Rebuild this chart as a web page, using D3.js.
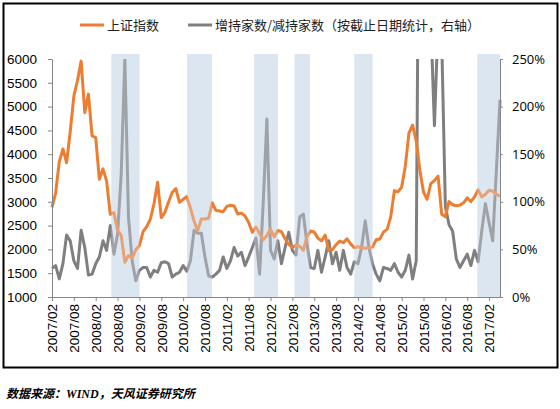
<!DOCTYPE html>
<html>
<head>
<meta charset="utf-8">
<script src="https://cdn.jsdelivr.net/npm/d3@7"></script>
<style>
  body { margin: 0; background: #fff; }
  svg { display: block; }
</style>
</head>
<body>
<script>
// monthly categories 2007/02 .. 2017/05
const months = d3.timeMonth.range(new Date(2007, 1, 1), new Date(2017, 5, 1)).map(d3.timeFormat("%Y/%m"));

const tickLabels = ["2007/02", "2007/08", "2008/02", "2008/08", "2009/02", "2009/08", "2010/02",
    "2010/08", "2011/02", "2011/08", "2012/02", "2012/08", "2013/02", "2013/08", "2014/02",
    "2014/08", "2015/02", "2015/08", "2016/02", "2016/08", "2017/02"];

// 上证指数, month end close
const sse = [
    2881, 3184, 3841, 4110, 3821, 4471, 5219, 5552, 5955, 4872, 5262,
    4383, 4349, 3473, 3693, 3433, 2736, 2776, 2397, 2294, 1729, 1871, 1821,
    1991, 2083, 2373, 2478, 2633, 2959, 3412, 2668, 2779, 2996, 3195, 3277,
    2989, 3052, 3109, 2871, 2592, 2398, 2638, 2639, 2656, 2979, 2820, 2808,
    2791, 2905, 2928, 2912, 2743, 2762, 2702, 2567, 2359, 2468, 2333, 2199,
    2293, 2428, 2263, 2396, 2372, 2225, 2104, 2048, 2086, 2069, 1980, 2269,
    2385, 2366, 2237, 2178, 2301, 1979, 1994, 2098, 2175, 2142, 2221, 2116,
    2033, 2056, 2033, 2026, 2039, 2048, 2202, 2217, 2364, 2420, 2683, 3235,
    3210, 3310, 3748, 4442, 4612, 4277, 3664, 3206, 3053, 3383, 3445, 3539,
    2738, 2688, 3004, 2938, 2917, 2930, 2979, 3085, 3005, 3100, 3250, 3104,
    3159, 3242, 3223, 3155, 3117
];

// 增持家数/减持家数 (%), right axis
const ratio = [
    30, 33, 19, 35, 65, 59, 38, 30, 70, 52, 23,
    24, 35, 42, 59, 49, 75, 45, 66, 129, 250, 84, 38,
    17, 28, 31, 31, 21, 28, 26, 36, 37, 35, 21, 24,
    26, 33, 27, 38, 70, 67, 67, 42, 22, 21, 24, 28,
    42, 30, 38, 52, 43, 47, 33, 42, 52, 62, 24, 100,
    187, 49, 40, 59, 35, 52, 68, 49, 44, 84, 87, 56,
    31, 30, 49, 26, 42, 59, 35, 47, 28, 49, 31, 24,
    37, 35, 52, 80, 52, 35, 24, 17, 31, 30, 28, 35,
    26, 21, 28, 44, 19, 38, 600, 600, 420, 290, 180, 290,
    270, 95, 76, 69, 40, 31, 38, 45, 33, 49, 37, 70,
    98, 78, 59, 133, 207
];

// shaded periods
const bandStart = ["2008/06/10", "2010/03/04", "2011/09/16", "2012/08/19", "2014/01/01", "2016/10/25"];
const bandEnd = ["2009/02/01", "2010/09/28", "2012/04/01", "2012/12/25", "2014/06/01", "2017/05/01"];

const W = 560, H = 409;
const plot = { left: 52, right: 500, top: 59, bottom: 297 };

const svg = d3.select("body").append("svg")
    .attr("width", W)
    .attr("height", H)
    .style("font-family", "'Liberation Sans', Arial, sans-serif");

svg.append("rect")
    .attr("x", 3.5).attr("y", 3.5)
    .attr("width", 554).attr("height", 364)
    .attr("fill", "#fff")
    .attr("stroke", "#000")
    .attr("stroke-width", 2);

// scales
const x = d3.scaleLinear().domain([0, months.length - 1]).range([plot.left, plot.right]);
const yL = d3.scaleLinear().domain([1000, 6000]).range([plot.bottom, plot.top]);
const yR = d3.scaleLinear().domain([0, 250]).range([plot.bottom, plot.top]);

function monthPos(s) {
    const p = s.split("/").map(Number);
    return (p[0] - 2007) * 12 + (p[1] - 2) + (p[2] - 1) / 30;
}
const bands = bandStart.map((s, i) => [monthPos(s), monthPos(bandEnd[i])]);

// bands behind
svg.append("g").selectAll("rect")
    .data(bands)
    .enter().append("rect")
    .attr("x", d => x(d[0]))
    .attr("width", d => x(d[1]) - x(d[0]))
    .attr("y", plot.top - 5)
    .attr("height", plot.bottom - plot.top + 5)
    .attr("fill", "#dce6f2");

svg.append("clipPath").attr("id", "plotclip")
    .append("rect")
    .attr("x", plot.left - 5).attr("y", plot.top)
    .attr("width", plot.right - plot.left + 10).attr("height", plot.bottom - plot.top);

const lineL = d3.line().x((d, i) => x(i)).y(d => yL(d));
const lineR = d3.line().x((d, i) => x(i)).y(d => yR(d));

const lines = svg.append("g").attr("clip-path", "url(#plotclip)");

lines.append("path")
    .datum(ratio)
    .attr("d", lineR)
    .attr("fill", "none")
    .attr("stroke", "#7f7f7f")
    .attr("stroke-width", 3)
    .attr("stroke-linejoin", "round");

lines.append("path")
    .datum(sse)
    .attr("d", lineL)
    .attr("fill", "none")
    .attr("stroke", "#ed7d31")
    .attr("stroke-width", 3)
    .attr("stroke-linejoin", "round");

// light wash over the lines inside the bands
svg.append("g").selectAll("rect")
    .data(bands)
    .enter().append("rect")
    .attr("x", d => x(d[0]))
    .attr("width", d => x(d[1]) - x(d[0]))
    .attr("y", plot.top - 5)
    .attr("height", plot.bottom - plot.top + 5)
    .attr("fill", "#dce6f2")
    .attr("opacity", 0.35);

// axes
const axisColor = "#868686";

const gL = svg.append("g")
    .attr("transform", "translate(" + plot.left + ",0)")
    .call(d3.axisLeft(yL).tickValues(d3.range(1000, 6001, 500)).tickSize(4).tickSizeOuter(0).tickPadding(11)
        .tickFormat(d3.format("d")));
gL.selectAll("text").attr("font-size", 13.5).attr("fill", "#000").style("font-family", "'Liberation Sans', Arial, sans-serif");

const gR = svg.append("g")
    .attr("transform", "translate(" + plot.right + ",0)")
    .call(d3.axisRight(yR).tickValues(d3.range(0, 251, 50)).tickSize(3).tickSizeOuter(0).tickPadding(9)
        .tickFormat(d => d + "%"));
gR.selectAll("text").attr("font-size", 13).attr("fill", "#000").style("font-family", "'Open Sans', sans-serif");

const tickIdx = tickLabels.map(t => months.indexOf(t));
const gB = svg.append("g")
    .attr("transform", "translate(0," + plot.bottom + ")")
    .call(d3.axisBottom(x).tickValues(tickIdx).tickSize(4).tickSizeOuter(0).tickFormat(i => months[i]));
gB.selectAll("text")
    .attr("transform", "rotate(-90)")
    .attr("text-anchor", "end")
    .attr("x", -7)
    .attr("y", 0)
    .attr("dy", "0.35em")
    .attr("font-size", 13.5)
    .attr("fill", "#000")
    .style("font-family", "'Liberation Sans', Arial, sans-serif");

[gL, gR, gB].forEach(g => {
    g.select(".domain").attr("stroke", axisColor);
    g.selectAll(".tick line").attr("stroke", axisColor);
});

// legend
const legend = [
    { name: "上证指数", color: "#ed7d31", x: 80 },
    { name: "增持家数/减持家数（按截止日期统计，右轴）", color: "#7f7f7f", x: 188 }
];
const lg = svg.append("g").selectAll("g")
    .data(legend)
    .enter().append("g")
    .attr("transform", d => "translate(" + d.x + ",25)");
lg.append("line")
    .attr("x1", 0).attr("x2", 24)
    .attr("stroke", d => d.color)
    .attr("stroke-width", 3);
lg.append("text")
    .attr("x", 27)
    .attr("dy", "0.35em")
    .attr("font-size", 13)
    .attr("fill", "#222")
    .style("font-family", "'Noto Sans CJK SC', sans-serif")
    .text(d => d.name);

// source note
svg.append("text")
    .attr("x", 6)
    .attr("y", 398)
    .attr("font-size", 12)
    .attr("font-weight", "bold")
    .attr("font-style", "italic")
    .style("font-family", "'Liberation Serif', 'Noto Sans CJK SC', serif")
    .text("数据来源：WIND，天风证券研究所");
</script>
</body>
</html>
